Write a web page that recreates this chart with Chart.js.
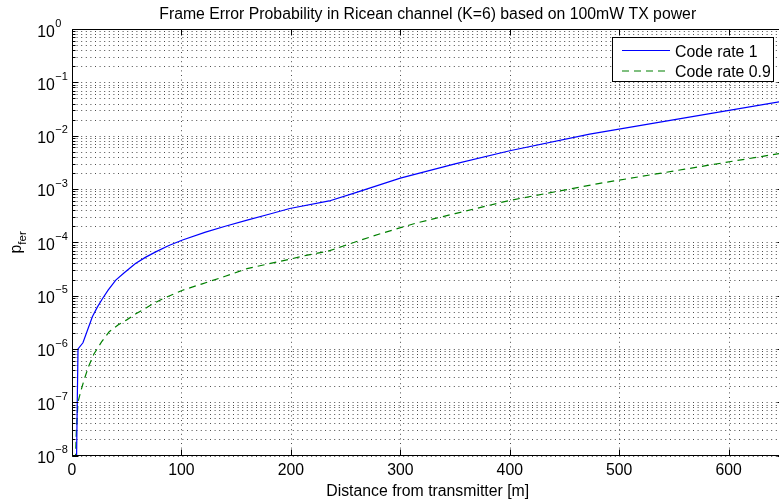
<!DOCTYPE html>
<html>
<head>
<meta charset="utf-8">
<script src="https://cdn.jsdelivr.net/npm/chart.js@4.4.0/dist/chart.umd.min.js"></script>
<style>
html, body { margin: 0; padding: 0; background: #fff; overflow: hidden; }
#wrap { width: 779px; height: 502px; }
</style>
</head>
<body>
<div id="wrap"><canvas id="ferChart" width="779" height="502"></canvas></div>
<script>
const chartTitle = 'Frame Error Probability in Ricean channel (K=6) based on 100mW TX power';
const xAxisLabel = 'Distance from transmitter [m]';
const seriesLabels = ['Code rate 1', 'Code rate 0.9'];

// (distance in m, frame error probability)
const rate1Dist = [3.5, 4.2, 4.8, 5.5, 10, 18.6, 23, 27.8, 33, 40, 48, 58, 67, 76.5, 88, 101, 122, 140, 160, 180, 199, 235, 260, 300, 350, 400, 473, 560, 650];
const rate1Pfer = [1e-9, 1e-8, 1e-7, 1e-6, 1.3e-6, 4e-6, 6e-6, 8.7e-6, 1.26e-5, 1.95e-5, 2.7e-5, 4e-5, 5.2e-5, 6.6e-5, 8.6e-5, 1.1e-4, 1.55e-4, 2.0e-4, 2.6e-4, 3.35e-4, 4.3e-4, 5.95e-4, 8.6e-4, 1.6e-3, 2.95e-3, 5.2e-3, 1.07e-2, 2.16e-2, 4.45e-2];

const rate09Dist = [2.8, 3.3, 4, 5.5, 8, 11, 15, 20, 27, 34, 42, 50, 58, 66, 74, 83, 92, 101, 119, 140, 160, 180, 199, 215, 234, 248, 265, 282, 298, 315, 332, 350, 400, 481, 560, 650];
const rate09Pfer = [1e-9, 1e-8, 3e-8, 1e-7, 1.6e-7, 2.6e-7, 4.6e-7, 8e-7, 1.35e-6, 2.1e-6, 2.8e-6, 3.5e-6, 4.5e-6, 5.6e-6, 7e-6, 8.7e-6, 1.05e-5, 1.26e-5, 1.66e-5, 2.3e-5, 3.2e-5, 3.95e-5, 4.8e-5, 5.75e-5, 6.8e-5, 8.5e-5, 1.12e-4, 1.45e-4, 1.82e-4, 2.3e-4, 2.8e-4, 3.45e-4, 6.1e-4, 1.26e-3, 2.35e-3, 4.75e-3];

const xTicks = [0, 100, 200, 300, 400, 500, 600];
const yDecades = [0, -1, -2, -3, -4, -5, -6, -7, -8];
const xAxisEnd = 650;     // axis goes to 650, the image is cut a little before
const xVisibleEnd = 646;

const FONT = "'Liberation Sans', Arial, Helvetica, sans-serif";

function toPoints(xs, ys) {
    return xs.map((x, i) => ({ x: x, y: ys[i] }));
}

function line(ctx, x1, y1, x2, y2) {
    ctx.beginPath();
    ctx.moveTo(x1, y1);
    ctx.lineTo(x2, y2);
    ctx.stroke();
}

// MATLAB-ish axes: dotted grid, inner ticks, superscript labels, boxed legend
const matlabAxes = {
    id: 'matlabAxes',
    beforeDraw(chart) {
        const ctx = chart.ctx;
        ctx.save();
        ctx.fillStyle = '#fff';
        ctx.fillRect(0, 0, chart.width, chart.height);
        ctx.restore();
    },
    beforeDatasetsDraw(chart) {
        const { ctx, chartArea: a, scales: { x, y } } = chart;
        const right = x.getPixelForValue(xAxisEnd);
        ctx.save();
        ctx.strokeStyle = 'rgba(0,0,0,0.7)';
        ctx.lineWidth = 1;
        ctx.setLineDash([1, 3.6]);
        yDecades.forEach(e => {
            for (let m = 1; m < 10; m++) {
                const v = m * Math.pow(10, e);
                if (v >= 1) continue;
                const py = Math.round(y.getPixelForValue(v)) + 0.5;
                line(ctx, a.left, py, right, py);
            }
        });
        xTicks.forEach(t => {
            if (t === 0) return;
            const px = Math.round(x.getPixelForValue(t)) + 0.5;
            line(ctx, px, a.top, px, a.bottom);
        });
        ctx.restore();
    },
    afterDatasetsDraw(chart) {
        const { ctx, chartArea: a, scales: { x, y } } = chart;
        const left = a.left + 0.5;
        const right = x.getPixelForValue(xAxisEnd);
        const top = Math.round(a.top) + 0.5;
        const bottom = Math.round(a.bottom) - 0.5;
        ctx.save();
        ctx.strokeStyle = '#000';
        ctx.lineWidth = 1;
        ctx.setLineDash([]);
        ctx.strokeRect(left, top, right - left, bottom - top);

        // y ticks (inside, both sides)
        yDecades.forEach(e => {
            for (let m = 1; m < 10; m++) {
                const v = m * Math.pow(10, e);
                if (v > 1) continue;
                const py = Math.round(y.getPixelForValue(v)) + 0.5;
                const len = m === 1 ? 6 : 3;
                line(ctx, left, py, left + len, py);
                line(ctx, right, py, right - len, py);
            }
        });
        // x ticks (inside, top and bottom)
        xTicks.forEach(t => {
            const px = Math.round(x.getPixelForValue(t)) + 0.5;
            line(ctx, px, bottom, px, bottom - 6);
            line(ctx, px, top, px, top + 6);
        });

        ctx.fillStyle = '#000';
        ctx.textBaseline = 'alphabetic';

        // x tick labels
        ctx.font = '15.8px ' + FONT;
        ctx.textAlign = 'center';
        xTicks.forEach(t => {
            ctx.fillText(String(t), x.getPixelForValue(t), 475);
        });

        // y tick labels 10^e
        yDecades.forEach(e => {
            const py = y.getPixelForValue(Math.pow(10, e));
            ctx.font = '15.8px ' + FONT;
            ctx.textAlign = 'right';
            ctx.fillText('10', 54.7, py + 7.5);
            ctx.font = '11px ' + FONT;
            ctx.textAlign = 'left';
            ctx.fillText(e < 0 ? '\u2212' + Math.abs(e) : String(e), 55.3, py - 2.2);
        });

        // axis labels and title
        const cx = (a.left + right) / 2;
        ctx.font = '15.8px ' + FONT;
        ctx.textAlign = 'center';
        ctx.fillText(xAxisLabel, cx, 495.5);
        ctx.fillText(chartTitle, cx, 18.8);

        ctx.save();
        ctx.translate(20.7, 253.5);
        ctx.rotate(-Math.PI / 2);
        ctx.textAlign = 'left';
        ctx.font = '15.8px ' + FONT;
        ctx.fillText('p', 0, 0);
        const pw = ctx.measureText('p').width;
        ctx.font = '11.5px ' + FONT;
        ctx.fillText('fer', pw, 5.5);
        ctx.restore();

        // legend box
        const bx = 612.5, by = 37.5, bw = 161, bh = 44;
        ctx.fillStyle = '#fff';
        ctx.fillRect(bx, by, bw, bh);
        ctx.strokeStyle = '#000';
        ctx.strokeRect(bx, by, bw, bh);
        chart.data.datasets.forEach((ds, i) => {
            const ly = 50.5 + i * 20.5;
            ctx.strokeStyle = ds.borderColor;
            ctx.lineWidth = ds.borderWidth;
            ctx.setLineDash(ds.borderDash || []);
            line(ctx, 622, ly, 670, ly);
            ctx.setLineDash([]);
            ctx.fillStyle = '#000';
            ctx.font = '15.8px ' + FONT;
            ctx.textAlign = 'left';
            ctx.fillText(ds.label, 675, ly + 6);
        });
        ctx.restore();
    }
};

const ctx = document.getElementById('ferChart').getContext('2d');
const ferChart = new Chart(ctx, {
    type: 'line',
    data: {
        datasets: [
            {
                label: seriesLabels[0],
                data: toPoints(rate1Dist, rate1Pfer),
                borderColor: 'rgb(0, 0, 255)',
                borderWidth: 1.2,
                pointRadius: 0,
                fill: false,
                tension: 0
            },
            {
                label: seriesLabels[1],
                data: toPoints(rate09Dist, rate09Pfer),
                borderColor: 'rgb(0, 128, 0)',
                borderWidth: 1.2,
                borderDash: [7, 5],
                pointRadius: 0,
                fill: false,
                tension: 0
            }
        ]
    },
    options: {
        responsive: false,
        animation: false,
        devicePixelRatio: 1,
        layout: {
            padding: { left: 72, top: 29, right: 0, bottom: 46.5 }
        },
        plugins: {
            legend: { display: false },
            title: { display: false },
            tooltip: { enabled: false }
        },
        scales: {
            x: {
                type: 'linear',
                min: 0,
                max: xVisibleEnd,
                display: false
            },
            y: {
                type: 'logarithmic',
                min: 1e-8,
                max: 1,
                display: false
            }
        }
    },
    plugins: [matlabAxes]
});
</script>
</body>
</html>
